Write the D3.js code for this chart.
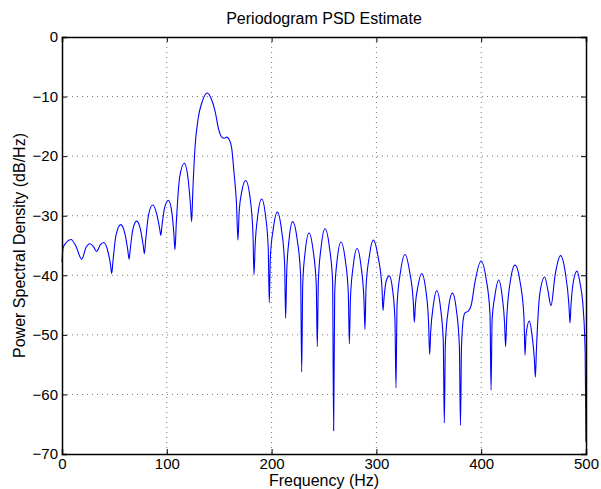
<!DOCTYPE html>
<html>
<head>
<meta charset="utf-8">
<script src="https://cdn.jsdelivr.net/npm/d3@7"></script>
<style>
  body { margin: 0; background: #fff; }
  svg { display: block; }
  text { font-family: "Liberation Sans", Arial, sans-serif; fill: #000; }
</style>
</head>
<body>
<div class="vis"></div>
<script>
// frequency (Hz) and PSD (dB/Hz)
const freq = [
  0, 1, 4, 8.6, 13.5, 18.8, 23, 26.7, 30, 33, 36.5, 39.8, 43.5, 46.3, 47.4, 48.7, 51.5, 56,
  60, 62.8, 64, 65.3, 67.5, 71.2, 75, 77.5, 78.6, 79.8, 82.5, 86.5, 90.5, 93.2, 94.3, 95.5, 98,
  101.5, 104.8, 106.8, 107.8, 109, 112.3, 116.7, 120.3, 122.7, 123.7, 124.8, 126.9, 130, 133.5,
  138.7, 142.5, 146, 149.5, 152.4, 155, 157.2, 160, 161.9, 164, 166.5, 167.9, 169, 171.5, 175.3,
  179.3, 182.2, 183.2, 184.3, 186.8, 190.5, 194.2, 196.8, 197.8, 198.8, 201.6, 205.4, 209.4,
  212.4, 213.4, 214.4, 216.8, 220.1, 224.4, 227.7, 228.7, 229.7, 232.2, 235.7, 239.6, 242.6,
  243.6, 244.6, 247.3, 251, 255.1, 258.2, 259.2, 260.2, 262.7, 266.2, 270.2, 273.2, 274.2,
  275.2, 277.9, 281.6, 285.3, 288.1, 289.1, 290.1, 293.1, 297.1, 301.7, 305.3, 306.3, 307.3,
  309.3, 312.3, 315.5, 317.7, 318.7, 319.7, 323, 327.3, 331.7, 335.2, 336.2, 337.2, 339.7,
  343.2, 347, 349.8, 350.8, 351.8, 354.2, 357.5, 361.2, 363.8, 364.8, 365.8, 368.6, 372.5,
  376.3, 379.2, 380.2, 381.2, 382.8, 384.5, 387.7, 390.5, 394, 399.8, 404.6, 408.4, 409.4,
  410.4, 413, 416.7, 420, 422.3, 423.3, 424.3, 427.8, 432.3, 437, 440.8, 441.8, 442.8, 445.9,
  448.8, 450.7, 451.7, 452.7, 456, 460.6, 463.6, 466.6, 470.5, 475.8, 480.2, 483.7, 484.7,
  485.7, 488, 491.4, 494.5, 497.5, 499.2, 500
];
const psd = [
  -37.8, -35.4, -34.5, -34.0, -35.2, -37.3, -35.3, -34.7, -35.2, -36.0, -34.9, -34.5, -35.8, -38.2, -39.7, -37.5, -33.3, -31.5,
  -33.0, -35.8, -37.3, -35.3, -32.4, -30.9, -32.4, -35.0, -36.4, -34.2, -29.9, -28.2, -29.8, -32.2, -33.3, -31.5, -28.6,
  -27.4, -29.4, -33.2, -35.7, -31.5, -23.5, -21.2, -23.8, -28.5, -31.0, -26.0, -18.6, -13.6, -11.0,
  -9.4, -10.4, -12.4, -15.5, -16.8, -17.0, -16.8, -17.4, -18.6, -22.5, -28.0, -34.1, -29.5, -26.0, -24.1,
  -26.8, -33.0, -39.9, -35.0, -30.0, -27.2, -30.0, -35.5, -44.6, -37.0, -32.2, -29.4, -32.3,
  -38.0, -47.2, -39.5, -33.8, -31.0, -34.0, -40.0, -56.2, -41.5, -35.8, -32.9, -35.8, -41.5,
  -52.0, -41.0, -35.2, -32.2, -35.2, -41.0, -66.1, -43.0, -37.2, -34.4, -37.3, -43.0, -51.5,
  -44.0, -38.4, -35.5, -38.4, -44.0, -49.1, -42.0, -37.0, -34.1, -37.0, -42.0, -45.9, -43.8,
  -41.0, -40.1, -42.5, -47.5, -58.9, -45.0, -39.4, -36.5, -39.4, -44.5, -47.9, -45.0, -41.8,
  -39.7, -42.3, -48.0, -53.3, -49.5, -45.2, -42.6, -45.5, -51.0, -64.8, -51.5, -45.8, -43.0,
  -45.8, -52.0, -65.2, -52.0, -47.5, -46.3, -46.0, -45.0, -41.2, -37.6, -40.5, -46.5, -59.3,
  -47.5, -43.5, -40.8, -43.5, -48.0, -52.0, -47.5, -41.0, -38.3, -41.0, -47.0, -53.4, -50.0, -47.7,
  -50.5, -54.0, -57.1, -52.5, -43.0, -40.3, -42.5, -45.1, -40.0, -36.7, -39.5, -45.0, -48.0,
  -45.0, -41.0, -39.3, -41.5, -46.0, -53.0, -68.0
];
const xTicks = [0, 100, 200, 300, 400, 500];
const yTicks = [0, -10, -20, -30, -40, -50, -60, -70];

const W = 601, H = 489;
const m = { l: 62, t: 37, r: 15, b: 35 };
const w = W - m.l - m.r, h = H - m.t - m.b;

const svg = d3.select(".vis").append("svg").attr("width", W).attr("height", H);
const g = svg.append("g").attr("transform", `translate(${m.l}, ${m.t})`);

const x = d3.scaleLinear().domain([0, 500]).range([0, w]);
const y = d3.scaleLinear().domain([-70, 0]).range([h, 0]);

// dotted grid
g.append("g").selectAll("line").data(xTicks.slice(1, -1)).join("line")
  .attr("x1", d => x(d)).attr("x2", d => x(d)).attr("y1", 0).attr("y2", h)
  .attr("stroke", "#777").attr("stroke-dasharray", "1,4");
g.append("g").selectAll("line").data(yTicks.slice(1, -1)).join("line")
  .attr("y1", d => y(d)).attr("y2", d => y(d)).attr("x1", 0).attr("x2", w)
  .attr("stroke", "#777").attr("stroke-dasharray", "1,4");

// the curve
const pts = freq.map((f, i) => [f, psd[i]]);
const line = d3.line().x(d => x(d[0])).y(d => y(d[1])).curve(d3.curveMonotoneX);
g.append("path").datum(pts).attr("d", line)
  .attr("fill", "none").attr("stroke", "#0000ff").attr("stroke-width", 1.1);

// axes, MATLAB style: ticks inside, box
const fmt = d3.format("d");
g.append("g").attr("transform", `translate(0, ${h})`)
  .call(d3.axisBottom(x).tickValues(xTicks).tickSize(-5).tickPadding(4).tickFormat(fmt));
g.append("g")
  .call(d3.axisLeft(y).tickValues(yTicks).tickSize(-5).tickPadding(4).tickFormat(fmt));
g.append("g")
  .call(d3.axisTop(x).tickValues(xTicks).tickSize(-5).tickFormat(""));
g.append("g").attr("transform", `translate(${w}, 0)`)
  .call(d3.axisRight(y).tickValues(yTicks).tickSize(-5).tickFormat(""));

g.selectAll(".domain").attr("stroke", "#000").attr("stroke-width", 1.5);
g.selectAll(".tick line").attr("stroke", "#000");
g.selectAll(".tick text").attr("font-size", 15).attr("font-family", "Liberation Sans, Arial, sans-serif").attr("fill", "#000");

// texts
svg.append("text").attr("x", m.l + w / 2).attr("y", 24).attr("text-anchor", "middle")
  .attr("font-size", 16).text("Periodogram PSD Estimate");
svg.append("text").attr("x", m.l + w / 2).attr("y", 486).attr("text-anchor", "middle")
  .attr("font-size", 16).text("Frequency (Hz)");
svg.append("text").attr("transform", `translate(25, ${m.t + h / 2}) rotate(-90)`)
  .attr("text-anchor", "middle").attr("font-size", 16).text("Power Spectral Density (dB/Hz)");
</script>
</body>
</html>
